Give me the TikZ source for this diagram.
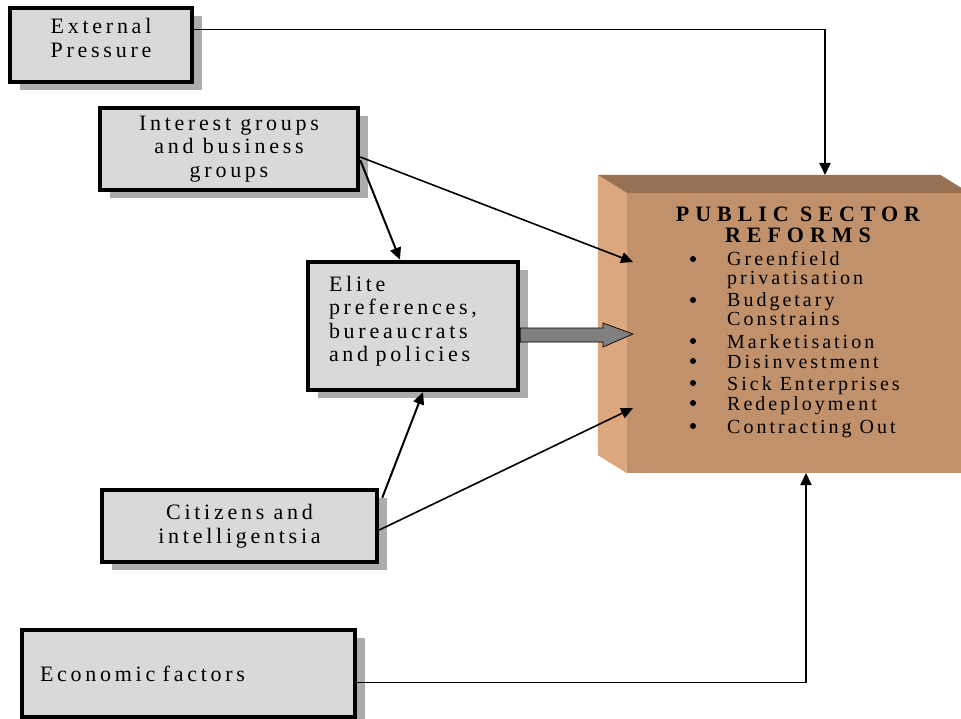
\documentclass[tikz,border=0pt]{standalone}
\usepackage{fontspec}
\setmainfont{Liberation Serif}[LetterSpace=17]
\usetikzlibrary{shadows,arrows.meta,calc}
\definecolor{boxgray}{RGB}{217,217,217}
\definecolor{shadowgray}{RGB}{172,172,172}
\definecolor{psfront}{RGB}{193,145,108}
\definecolor{psleft}{RGB}{221,167,125}
\definecolor{pstop}{RGB}{150,113,84}
\definecolor{arrowgray}{RGB}{128,128,128}
\begin{document}
\begin{tikzpicture}[x=1pt,y=-1pt,
  factor/.style={draw=black, line width=4.5pt, fill=boxgray,
    drop shadow={shadow xshift=10pt, shadow yshift=-8pt, fill=shadowgray, opacity=1},
    font=\fontsize{22}{23.5}\selectfont, inner sep=0pt},
  link/.style={line width=2pt, -{Triangle[length=12pt,width=11pt]}},
  thinlink/.style={line width=1pt},
  bigarrow/.style={draw=black, line width=0.7pt, fill=arrowgray, line join=miter},
  listtext/.style={anchor=base west, inner sep=0pt, font=\fontsize{20}{21}\selectfont\addfontfeatures{LetterSpace=15}},
  bulletdot/.style={circle, fill=black, inner sep=0pt, minimum size=6pt},
  titletext/.style={anchor=base, inner sep=0pt, font=\fontsize{22}{24}\selectfont\bfseries\addfontfeatures{LetterSpace=27}}]
\useasboundingbox (0,0) rectangle (961,719);
\clip (0,0) rectangle (961,719);

% public sector box
\node[fill=psfront, minimum width=342pt, minimum height=280pt, inner sep=0pt] (psr) at (798,333) {};
\fill[psleft] (psr.north west) -- ([shift={(-29,-18)}]psr.north west) -- ([shift={(-29,-18)}]psr.south west) -- (psr.south west) -- cycle;
\fill[pstop] (psr.north west) -- ([shift={(-29,-18)}]psr.north west) -- ([shift={(-29,-18)}]psr.north east) -- (psr.north east) -- cycle;

\node[titletext] (pst1) at (798,222) {PUBLIC SECTOR};
\node[titletext] (pst2) at (798,243) {REFORMS};
\foreach \yy/\tt [count=\i] in {266/Greenfield, 285/privatisation, 307/Budgetary, 326/Constrains, 348/Marketisation, 368/Disinvestment, 390/Sick Enterprises, 410/Redeployment, 433/Contracting Out}
  \node[listtext] (li\i) at (727,\yy) {\tt};
\foreach \yy [count=\i] in {266,307,348,368,390,410,433}
  \node[bulletdot] (bul\i) at (693,\yy-7) {};

% factor boxes
\node[factor, minimum width=182pt, minimum height=74pt, text width=146pt, inner xsep=18pt, align=center] (ext) at (101,45) {External\\Pressure\\[-9pt]\mbox{}};
\node[factor, minimum width=258pt, minimum height=82pt, align=center] (int) at (229,149) {Interest groups\\and business\\groups};
\node[factor, minimum width=210pt, minimum height=128pt, text width=168pt, inner xsep=21pt, align=left] (elite) at (413,326) {Elite\\preferences,\\bureaucrats\\and policies\\[-9pt]\mbox{}};
\node[factor, minimum width=275pt, minimum height=72pt, align=center] (cit) at (239.5,526) {Citizens and\\intelligentsia};
\node[factor, minimum width=333pt, minimum height=87pt, text width=297pt, inner xsep=18pt, align=left] (eco) at (188.5,673.5) {Economic factors};

% free ends on the public sector box
\coordinate (extcorner) at (825,30);
\coordinate (ptop) at (825,175);
\coordinate (ecocorner) at (806,682);
\coordinate (pbot) at (806,473);
\coordinate (pin1) at (633,262);
\coordinate (pmid) at (633,334);
\coordinate (pin2) at (633,408);

% connectors
\draw[thinlink] ([yshift=15pt]ext.east) -- (extcorner);
\draw[link] ([yshift=0.5pt]extcorner) -- (ptop);
\draw[thinlink] ([yshift=-8.5pt]eco.east) -- (ecocorner);
\draw[link] ([yshift=-0.5pt]ecocorner) -- (pbot);

\draw[link, line width=1.6pt] ([yshift=-8pt]int.east) -- (pin1);
\draw[link] ([yshift=-11pt]int.east) -- ([xshift=-13pt]elite.north);
\draw[link] ([shift={(3,10)}]cit.north east) -- ([xshift=10pt]elite.south);
\draw[link, line width=1.6pt] ([yshift=-4pt]cit.east) -- (pin2);

\draw[bigarrow] ($(elite.east)+(0,2)$) -- ($(pmid)+(-30,-6)$) -- ($(pmid)+(-30,-11)$) -- (pmid)
  -- ($(pmid)+(-30,13)$) -- ($(pmid)+(-30,8)$) -- ($(elite.east)+(0,16)$) -- cycle;
\end{tikzpicture}
\end{document}
